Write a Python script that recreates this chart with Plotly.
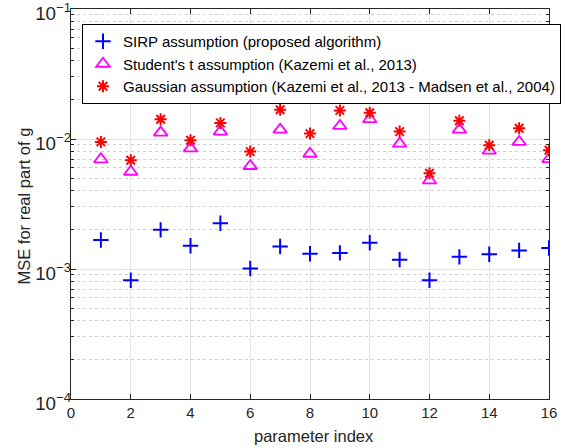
import plotly.graph_objects as go

# parameter index
idx = list(range(1, 17))

# MSE
mse_sirp = [1.67e-3, 8.2e-4, 2.0e-3, 1.51e-3, 2.25e-3, 1.01e-3, 1.49e-3, 1.31e-3,
            1.33e-3, 1.59e-3, 1.18e-3, 8.2e-4, 1.24e-3, 1.30e-3, 1.39e-3, 1.45e-3]
mse_student = [6.98e-3, 5.6e-3, 1.12e-2, 8.47e-3, 1.14e-2, 6.2e-3, 1.18e-2, 7.7e-3,
               1.26e-2, 1.42e-2, 9.2e-3, 4.8e-3, 1.18e-2, 8.13e-3, 9.5e-3, 7.0e-3]
mse_gauss = [9.5e-3, 6.86e-3, 1.42e-2, 9.77e-3, 1.33e-2, 8.0e-3, 1.68e-2, 1.10e-2,
             1.66e-2, 1.59e-2, 1.14e-2, 5.45e-3, 1.38e-2, 8.95e-3, 1.21e-2, 8.2e-3]

names = ["SIRP assumption (proposed algorithm)",
         "Student's t assumption (Kazemi et al., 2013)",
         "Gaussian assumption (Kazemi et al., 2013 - Madsen et al., 2004)"]

FONT = "Liberation Sans, Arial, sans-serif"
TXT = "#262626"

fig = go.Figure()
fig.add_trace(go.Scatter(
    x=idx, y=mse_sirp, mode="markers", name=names[0],
    marker=dict(symbol="cross-thin-open", size=11, color="#0000ff",
                line=dict(color="#0000ff", width=2))))
fig.add_trace(go.Scatter(
    x=idx, y=mse_student, mode="markers", name=names[1],
    marker=dict(symbol="triangle-up-open", size=12, color="#ff00ff",
                line=dict(color="#ff00ff", width=1.8))))
fig.add_trace(go.Scatter(
    x=idx, y=mse_gauss, mode="markers", name=names[2],
    marker=dict(symbol="asterisk-open", size=10, color="#ff0000",
                line=dict(color="#ff0000", width=2))))

fig.update_layout(
    width=566, height=448,
    margin=dict(l=71, r=17, t=9, b=49, autoexpand=False),
    paper_bgcolor="white", plot_bgcolor="white",
    font=dict(family=FONT, color=TXT, size=15),
    showlegend=True,
    legend=dict(xref="container", yref="container",
                x=82 / 566, y=1 - 24 / 448, xanchor="left", yanchor="top",
                bgcolor="white", bordercolor="black", borderwidth=1,
                font=dict(size=15, color="black"), tracegroupgap=0,
                itemwidth=30),
    xaxis=dict(
        range=[0, 16], dtick=2, tick0=0, automargin=False,
        showline=True, linecolor=TXT, linewidth=1, mirror="ticks",
        ticks="inside", ticklen=5, tickcolor=TXT,
        showgrid=True, gridcolor="#e3e3e3", gridwidth=1, zeroline=False,
        tickfont=dict(size=15), ticklabeloverflow="allow",
    ),
    yaxis=dict(
        type="log", range=[-4, -1], dtick=1, exponentformat="power",
        automargin=False,
        showline=True, linecolor=TXT, linewidth=1, mirror="ticks",
        ticks="inside", ticklen=5, tickcolor=TXT,
        showgrid=True, gridcolor="#e3e3e3", gridwidth=1, zeroline=False,
        minor=dict(ticks="inside", ticklen=3, tickcolor=TXT,
                   showgrid=True, gridcolor="#cfcfcf", griddash="dot"),
        tickfont=dict(size=15), ticklabeloverflow="allow",
        ticklabelstandoff=-4, ticklabelshift=4,
    ),
)

# axis titles
fig.add_annotation(text="parameter index", xref="paper", yref="paper",
                   x=0.508, y=-0.095, xanchor="center", yanchor="middle",
                   showarrow=False, font=dict(size=16.5, color=TXT))
fig.add_annotation(text="MSE for real part of g", xref="paper", yref="paper",
                   x=-0.098, y=0.494, xanchor="center", yanchor="middle",
                   textangle=-90, showarrow=False, font=dict(size=16.5, color=TXT))

# page body has a default 8px margin; drop it so the figure fills the window
fig.write_html("out.html", config={"displayModeBar": False},
               post_script="document.body.style.margin='0';")
